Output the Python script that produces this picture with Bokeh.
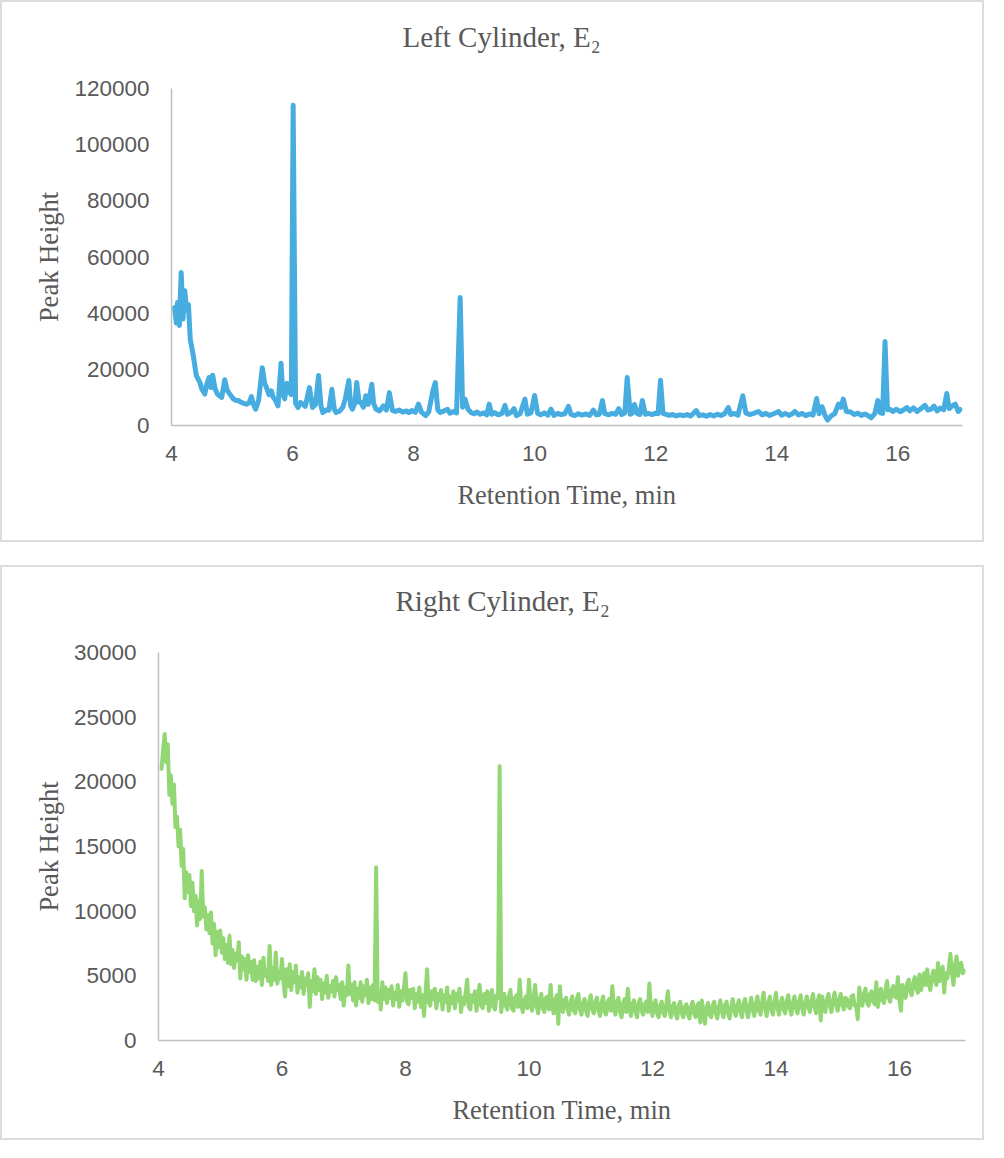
from bokeh.plotting import figure
from bokeh.layouts import column
from bokeh.models import FixedTicker, BasicTickFormatter, Range1d
from bokeh.embed import file_html
from bokeh.resources import INLINE

# ---------------- data: Left Cylinder (blue) ----------------
left_time = [4.05, 4.08, 4.10, 4.13, 4.16, 4.19, 4.22, 4.25, 4.28, 4.31, 4.36, 4.41, 4.47, 4.50, 4.55,
             4.58, 4.62, 4.65, 4.68, 4.72, 4.76, 4.80, 4.83, 4.88, 4.92, 4.97, 5.02, 5.06, 5.10, 5.15,
             5.20, 5.24, 5.28, 5.32, 5.36, 5.39, 5.44, 5.50, 5.54, 5.57, 5.61, 5.65, 5.68, 5.71, 5.76,
             5.81, 5.84, 5.87, 5.91, 5.95, 5.98, 6.01, 6.05, 6.09, 6.13, 6.17, 6.21, 6.28, 6.33, 6.38,
             6.43, 6.47, 6.50, 6.55, 6.60, 6.65, 6.69, 6.72, 6.78, 6.83, 6.87, 6.93, 6.96, 6.99, 7.03,
             7.06, 7.10, 7.13, 7.17, 7.21, 7.25, 7.31, 7.34, 7.38, 7.44, 7.50, 7.55, 7.60, 7.65, 7.70,
             7.76, 7.82, 7.88, 7.92, 7.97, 8.03, 8.08, 8.13, 8.20, 8.25, 8.32, 8.36, 8.40, 8.44, 8.50,
             8.56, 8.60, 8.66, 8.71, 8.77, 8.81, 8.85, 8.90, 8.95, 9.00, 9.05, 9.10, 9.16, 9.21, 9.25,
             9.29, 9.34, 9.40, 9.46, 9.51, 9.55, 9.61, 9.66, 9.70, 9.76, 9.84, 9.88, 9.94, 10.00, 10.05,
             10.10, 10.16, 10.22, 10.27, 10.32, 10.38, 10.44, 10.50, 10.56, 10.60, 10.66, 10.72, 10.78, 10.85, 10.91,
             10.97, 11.02, 11.07, 11.12, 11.16, 11.22, 11.28, 11.34, 11.39, 11.44, 11.49, 11.53, 11.58, 11.62, 11.65,
             11.70, 11.74, 11.78, 11.83, 11.88, 11.94, 12.00, 12.04, 12.08, 12.12, 12.17, 12.22, 12.28, 12.34, 12.40,
             12.46, 12.52, 12.58, 12.67, 12.72, 12.78, 12.84, 12.90, 12.96, 13.02, 13.08, 13.14, 13.20, 13.24, 13.30,
             13.36, 13.44, 13.49, 13.55, 13.62, 13.70, 13.76, 13.82, 13.88, 13.95, 14.03, 14.08, 14.14, 14.20, 14.26,
             14.30, 14.36, 14.42, 14.48, 14.54, 14.60, 14.66, 14.70, 14.75, 14.80, 14.84, 14.90, 14.96, 15.02, 15.06,
             15.10, 15.15, 15.22, 15.28, 15.34, 15.40, 15.46, 15.52, 15.56, 15.62, 15.67, 15.71, 15.75, 15.79, 15.83,
             15.87, 15.92, 15.98, 16.04, 16.10, 16.15, 16.20, 16.26, 16.32, 16.38, 16.45, 16.50, 16.55, 16.60, 16.65,
             16.70, 16.76, 16.81, 16.85, 16.90, 16.95, 17.00, 17.03]
left_height = [42000, 36500, 43800, 35600, 54500, 37900, 48000, 41000, 43000, 30700, 24900, 17800, 15300, 13000, 11200,
               14500, 17100, 13500, 17900, 13000, 11200, 10500, 10000, 16300, 12500, 11000, 9500, 9000, 8900, 8300,
               7800, 7600, 8000, 10300, 7200, 5800, 9000, 20600, 15000, 13500, 11000, 12300, 10000, 9300, 7000,
               22200, 11000, 9500, 15000, 12000, 11000, 114000, 8000, 6400, 8200, 7600, 6800, 13500, 6400, 7500,
               17800, 7000, 4600, 5500, 5400, 12900, 5800, 4600, 5200, 6500, 9300, 16000, 7000, 5800, 8000,
               15300, 8300, 8300, 6500, 10600, 7500, 14700, 7800, 5800, 5200, 7000, 5500, 11700, 5400, 5000,
               5500, 4800, 5200, 4600, 5300, 4700, 7600, 4800, 3500, 4800, 12500, 15300, 5500, 4600, 5200,
               5800, 4400, 5000, 4500, 45600, 6500, 9400, 5800, 4600, 4200, 4800, 4000, 4500, 3800, 7600,
               4000, 4600, 3800, 4300, 7200, 4000, 4700, 6000, 3500, 4200, 9400, 4000, 4500, 10700, 4300,
               3800, 4500, 3700, 5800, 3600, 4300, 3900, 4200, 6800, 4000, 3500, 4200, 3700, 4100, 3600,
               5500, 3800, 4000, 8900, 4200, 3800, 4300, 4000, 6000, 3900, 4500, 17100, 4000, 4500, 7500,
               4200, 3900, 8900, 4000, 4300, 3900, 4400, 4200, 16100, 4300, 4000, 3600, 3900, 3400, 3800,
               3500, 3900, 3400, 5300, 3500, 3800, 3300, 3900, 3400, 4000, 3600, 4200, 6400, 3900, 4300,
               3700, 10600, 4500, 3900, 4300, 5000, 3800, 4300, 3600, 4200, 5000, 3700, 4300, 3600, 4200,
               5000, 3800, 4300, 3500, 4100, 3700, 9600, 4200, 6700, 3500, 1900, 3400, 4200, 7600, 6500,
               9400, 5000, 4800, 3900, 4400, 3600, 4100, 3400, 2700, 4200, 8900, 4500, 4300, 29900, 5600,
               5800, 5000, 5800, 4900, 5600, 6400, 5200, 6300, 5000, 6000, 7200, 5500, 5800, 6900, 5200,
               6200, 5600, 11400, 6000, 7000, 7600, 5000, 5700]

# ---------------- data: Right Cylinder (green) ----------------
right_time = [
    4.050, 4.075, 4.100, 4.125, 4.150, 4.175, 4.200, 4.225, 4.250, 4.275, 4.300, 4.325, 4.350, 4.375, 4.400, 4.425, 4.450, 4.475, 4.500, 4.525,
    4.550, 4.575, 4.600, 4.625, 4.650, 4.675, 4.700, 4.725, 4.750, 4.775, 4.800, 4.825, 4.850, 4.875, 4.900, 4.925, 4.950, 4.975, 5.000, 5.025,
    5.050, 5.075, 5.100, 5.125, 5.150, 5.175, 5.200, 5.225, 5.250, 5.275, 5.300, 5.325, 5.350, 5.375, 5.400, 5.425, 5.450, 5.475, 5.500, 5.525,
    5.550, 5.575, 5.600, 5.625, 5.650, 5.675, 5.700, 5.725, 5.750, 5.775, 5.800, 5.825, 5.850, 5.875, 5.900, 5.925, 5.950, 5.975, 6.000, 6.025,
    6.050, 6.075, 6.100, 6.125, 6.150, 6.175, 6.200, 6.225, 6.250, 6.275, 6.300, 6.325, 6.350, 6.375, 6.400, 6.425, 6.450, 6.475, 6.500, 6.525,
    6.550, 6.575, 6.600, 6.625, 6.650, 6.675, 6.700, 6.725, 6.750, 6.775, 6.800, 6.825, 6.850, 6.875, 6.900, 6.925, 6.950, 6.975, 7.000, 7.025,
    7.050, 7.075, 7.100, 7.125, 7.150, 7.175, 7.200, 7.225, 7.250, 7.275, 7.300, 7.325, 7.350, 7.375, 7.400, 7.425, 7.450, 7.475, 7.500, 7.525,
    7.550, 7.575, 7.600, 7.625, 7.650, 7.675, 7.700, 7.725, 7.750, 7.775, 7.800, 7.825, 7.850, 7.875, 7.900, 7.925, 7.950, 7.975, 8.000, 8.025,
    8.050, 8.075, 8.100, 8.125, 8.150, 8.175, 8.200, 8.225, 8.250, 8.275, 8.300, 8.325, 8.350, 8.375, 8.400, 8.425, 8.450, 8.475, 8.500, 8.525,
    8.550, 8.575, 8.600, 8.625, 8.650, 8.675, 8.700, 8.725, 8.750, 8.775, 8.800, 8.825, 8.850, 8.875, 8.900, 8.925, 8.950, 8.975, 9.000, 9.025,
    9.050, 9.075, 9.100, 9.125, 9.150, 9.175, 9.200, 9.225, 9.250, 9.275, 9.300, 9.325, 9.350, 9.375, 9.400, 9.425, 9.450, 9.475, 9.500, 9.525,
    9.550, 9.575, 9.600, 9.625, 9.650, 9.675, 9.700, 9.725, 9.750, 9.775, 9.800, 9.825, 9.850, 9.875, 9.900, 9.925, 9.950, 9.975, 10.000, 10.025,
    10.050, 10.075, 10.100, 10.125, 10.150, 10.175, 10.200, 10.225, 10.250, 10.275, 10.300, 10.325, 10.350, 10.375, 10.400, 10.425, 10.450, 10.475, 10.500, 10.525,
    10.550, 10.575, 10.600, 10.625, 10.650, 10.675, 10.700, 10.725, 10.750, 10.775, 10.800, 10.825, 10.850, 10.875, 10.900, 10.925, 10.950, 10.975, 11.000, 11.025,
    11.050, 11.075, 11.100, 11.125, 11.150, 11.175, 11.200, 11.225, 11.250, 11.275, 11.300, 11.325, 11.350, 11.375, 11.400, 11.425, 11.450, 11.475, 11.500, 11.525,
    11.550, 11.575, 11.600, 11.625, 11.650, 11.675, 11.700, 11.725, 11.750, 11.775, 11.800, 11.825, 11.850, 11.875, 11.900, 11.925, 11.950, 11.975, 12.000, 12.025,
    12.050, 12.075, 12.100, 12.125, 12.150, 12.175, 12.200, 12.225, 12.250, 12.275, 12.300, 12.325, 12.350, 12.375, 12.400, 12.425, 12.450, 12.475, 12.500, 12.525,
    12.550, 12.575, 12.600, 12.625, 12.650, 12.675, 12.700, 12.725, 12.750, 12.775, 12.800, 12.825, 12.850, 12.875, 12.900, 12.925, 12.950, 12.975, 13.000, 13.025,
    13.050, 13.075, 13.100, 13.125, 13.150, 13.175, 13.200, 13.225, 13.250, 13.275, 13.300, 13.325, 13.350, 13.375, 13.400, 13.425, 13.450, 13.475, 13.500, 13.525,
    13.550, 13.575, 13.600, 13.625, 13.650, 13.675, 13.700, 13.725, 13.750, 13.775, 13.800, 13.825, 13.850, 13.875, 13.900, 13.925, 13.950, 13.975, 14.000, 14.025,
    14.050, 14.075, 14.100, 14.125, 14.150, 14.175, 14.200, 14.225, 14.250, 14.275, 14.300, 14.325, 14.350, 14.375, 14.400, 14.425, 14.450, 14.475, 14.500, 14.525,
    14.550, 14.575, 14.600, 14.625, 14.650, 14.675, 14.700, 14.725, 14.750, 14.775, 14.800, 14.825, 14.850, 14.875, 14.900, 14.925, 14.950, 14.975, 15.000, 15.025,
    15.050, 15.075, 15.100, 15.125, 15.150, 15.175, 15.200, 15.225, 15.250, 15.275, 15.300, 15.325, 15.350, 15.375, 15.400, 15.425, 15.450, 15.475, 15.500, 15.525,
    15.550, 15.575, 15.600, 15.625, 15.650, 15.675, 15.700, 15.725, 15.750, 15.775, 15.800, 15.825, 15.850, 15.875, 15.900, 15.925, 15.950, 15.975, 16.000, 16.025,
    16.050, 16.075, 16.100, 16.125, 16.150, 16.175, 16.200, 16.225, 16.250, 16.275, 16.300, 16.325, 16.350, 16.375, 16.400, 16.425, 16.450, 16.475, 16.500, 16.525,
    16.550, 16.575, 16.600, 16.625, 16.650, 16.675, 16.700, 16.725, 16.750, 16.775, 16.800, 16.825, 16.850, 16.875, 16.900, 16.925, 16.950, 16.975, 17.000, 17.025,
    17.050]
right_height = [
    21000, 22500, 23700, 21500, 22900, 19000, 20500, 18300, 19800, 16500, 17300, 15000, 16300, 13500, 14800, 11000, 13000, 11500, 12800, 10400,
    12200, 10000, 11200, 8900, 10800, 9400, 13100, 9600, 10300, 8600, 9700, 8300, 9900, 7500, 9000, 6600, 8400, 7200, 8500, 6800,
    7900, 6300, 7400, 6000, 8100, 5900, 7000, 5600, 6700, 6200, 7600, 4800, 6500, 5500, 6300, 4700, 6600, 5300, 6100, 4700,
    6200, 4600, 5700, 4800, 6100, 4300, 6400, 5000, 5400, 4600, 7300, 4300, 5600, 4700, 6800, 4400, 5300, 4800, 6300, 4500,
    3400, 5500, 4200, 5900, 3900, 5300, 4500, 5800, 3700, 4900, 4100, 5300, 3600, 4800, 4300, 5200, 2600, 4600, 3800, 5500,
    3600, 4900, 3900, 4700, 3200, 4400, 3700, 5000, 3300, 4200, 3800, 4600, 3400, 4900, 3900, 4300, 3200, 4500, 2700, 4100,
    3500, 5800, 3600, 4300, 3100, 4500, 2700, 4000, 3300, 4500, 3000, 4200, 3500, 4700, 2900, 4100, 3200, 4300, 3100, 13400,
    3000, 3800, 2400, 4500, 3200, 4100, 2900, 3900, 3300, 4200, 2700, 3700, 3200, 4300, 2600, 3800, 3100, 4100, 5200, 3000,
    2800, 3900, 3300, 4000, 2500, 3600, 3000, 4100, 2600, 3500, 1900, 3700, 5500, 3000, 2700, 3800, 3200, 4000, 2500, 3600,
    3100, 3900, 2400, 3500, 3000, 4100, 2300, 3400, 2900, 3800, 2500, 3600, 3100, 4000, 2200, 3300, 2800, 3700, 4700, 2600,
    2400, 3500, 3000, 3800, 2300, 3400, 4300, 2700, 2500, 3600, 2900, 3800, 2300, 3300, 3900, 2600, 2400, 3500, 3300, 21200,
    2200, 3200, 3600, 2700, 2400, 3400, 3900, 2500, 2300, 3300, 3500, 2600, 4700, 2800, 2200, 3100, 3400, 2500, 4700, 2900,
    2300, 3300, 4300, 2600, 2100, 3200, 3600, 2500, 2200, 3300, 3400, 2400, 4300, 2700, 2100, 3100, 3500, 1300, 4200, 2600,
    2200, 3100, 3300, 2400, 2000, 3000, 3400, 2300, 2100, 3200, 3600, 2400, 2000, 2900, 3200, 2300, 1900, 3000, 3500, 2400,
    2100, 3000, 3300, 2300, 1900, 2900, 3400, 2200, 2000, 3000, 3200, 2300, 4200, 2500, 2000, 2900, 3300, 2200, 1800, 2900,
    3200, 2200, 4000, 2600, 1900, 2800, 3100, 2200, 1800, 2900, 3200, 2300, 2000, 2800, 3000, 2200, 4400, 2500, 1900, 2800,
    3100, 2100, 1800, 2700, 3000, 2100, 1900, 2800, 3800, 2300, 1800, 2600, 2900, 2000, 1700, 2700, 3000, 2100, 1800, 2600,
    2800, 2000, 1700, 2600, 3000, 2100, 1800, 2700, 2900, 1400, 3100, 2200, 1300, 2500, 2900, 2000, 1800, 2700, 3000, 2100,
    1700, 2600, 3100, 2200, 1800, 2700, 3000, 2100, 1700, 2600, 3200, 2300, 1900, 2700, 3100, 2200, 1800, 2800, 3200, 2300,
    1800, 2700, 3300, 2400, 1900, 2800, 3400, 2300, 2000, 2900, 3700, 2500, 1900, 2800, 3400, 2400, 2000, 2900, 3700, 2500,
    2000, 2900, 3300, 2400, 2100, 3000, 3500, 2500, 2000, 2900, 3400, 2500, 2100, 3000, 3500, 2500, 2000, 2900, 3400, 2600,
    2200, 3100, 3600, 2600, 2100, 3000, 3500, 1550, 3400, 2600, 2200, 3100, 3600, 2700, 2200, 3100, 3700, 2800, 2300, 3200,
    3600, 2700, 2400, 3300, 3200, 2600, 2500, 3400, 3500, 2700, 2600, 1650, 4100, 3000, 2700, 3600, 4000, 3000, 2700, 3600,
    3800, 3000, 2800, 4500, 2600, 3500, 4000, 3100, 2900, 3900, 4600, 3300, 3000, 3900, 4200, 3400, 3300, 4900, 3100, 2300,
    4300, 3600, 3300, 4400, 4700, 3800, 3500, 4500, 4900, 4000, 3700, 5100, 3900, 4600, 5200, 4300, 5500, 4400, 3900, 4900,
    5400, 4600, 4300, 6000, 4600, 5300, 5700, 3700, 5200, 4800, 5600, 6700, 5200, 4300, 5800, 6500, 5000, 5900, 6000, 5200,
    5400]

x_ticks = [4, 6, 8, 10, 12, 14, 16]
left_y_ticks = [0, 20000, 40000, 60000, 80000, 100000, 120000]
right_y_ticks = [0, 5000, 10000, 15000, 20000, 25000, 30000]

TXT = "#595959"
SERIF = "Liberation Serif"
SANS = "Liberation Sans"


def make_chart(title, xs, ys, color, y_max, y_ticks, width, height, borders, title_offset, lw):
    p = figure(width=width, height=height, output_backend="svg", toolbar_location=None,
               x_range=Range1d(4, 17.07), y_range=Range1d(0, y_max),
               min_border_left=borders[0], min_border_right=borders[1],
               min_border_top=borders[2], min_border_bottom=borders[3])
    p.frame_align = False
    p.styles = {"border": "2px solid #dcdcdc"}
    p.outline_line_color = None
    p.background_fill_color = "white"
    p.border_fill_color = "white"
    p.xgrid.visible = False
    p.ygrid.visible = False

    # title: a blank second line lifts the text above the frame
    p.title.text = title + "\n "
    p.title.align = "left"
    p.title.offset = title_offset
    p.title.vertical_align = "bottom"
    p.title.text_font = SERIF
    p.title.text_font_size = "29px"
    p.title.text_font_style = "normal"
    p.title.text_color = TXT
    p.title.text_line_height = 1.1
    p.title.standoff = 0

    p.line(xs, ys, line_color=color, line_width=lw, line_join="round", line_cap="round")

    for ax in (p.xaxis[0], p.yaxis[0]):
        ax.axis_line_color = "#bfbfbf"
        ax.axis_line_width = 1.5
        ax.major_tick_line_color = None
        ax.minor_tick_line_color = None
        ax.major_tick_out = 0
        ax.major_tick_in = 0
        ax.minor_tick_out = 0
        ax.minor_tick_in = 0
        ax.major_label_text_font = SANS
        ax.major_label_text_font_size = "22.5px"
        ax.major_label_text_color = TXT
        ax.axis_label_text_font = SERIF
        ax.axis_label_text_font_size = "26.5px"
        ax.axis_label_text_font_style = "normal"
        ax.axis_label_text_color = TXT

    p.xaxis.ticker = FixedTicker(ticks=x_ticks)
    p.yaxis.ticker = FixedTicker(ticks=y_ticks)
    p.yaxis.formatter = BasicTickFormatter(use_scientific=False)
    p.xaxis.axis_label = "Retention Time, min"
    p.yaxis.axis_label = "Peak Height"
    p.xaxis.major_label_standoff = 20
    p.yaxis.major_label_standoff = 22
    p.xaxis.axis_label_standoff = 16
    p.yaxis.axis_label_standoff = 7
    return p


p1 = make_chart("Left Cylinder, E\u2082", left_time, left_height, "#47ADE0", 120000, left_y_ticks,
                984, 542, (169, 24, 86, 119), 231, 5)
p2 = make_chart("Right Cylinder, E\u2082", right_time, right_height, "#92D774", 30000, right_y_ticks,
                984, 575, (156, 21, 85, 102), 237, 4)

layout = column(p1, p2, spacing=23)
open("out.html", "w").write(file_html(layout, INLINE))
